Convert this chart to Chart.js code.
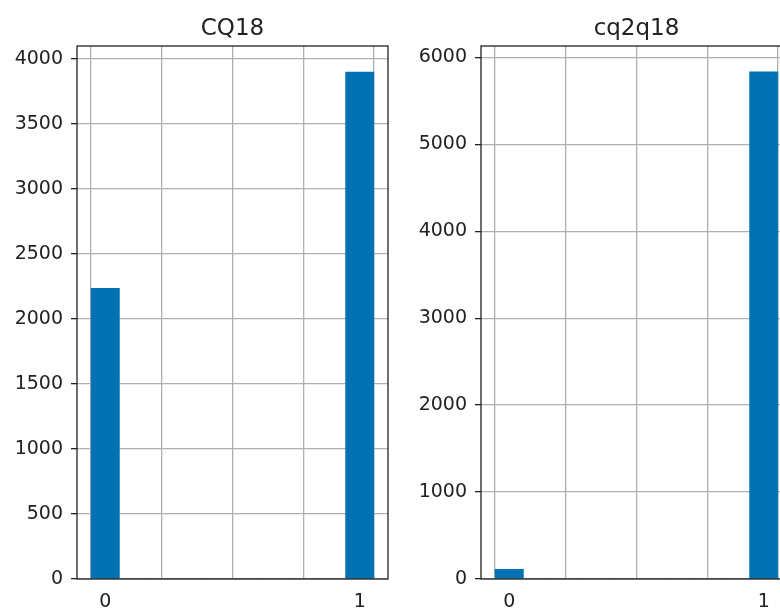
<!DOCTYPE html>
<html>
<head>
<meta charset="utf-8">
<script src="https://cdn.jsdelivr.net/npm/chart.js@4/dist/chart.umd.min.js"></script>
<style>
  html, body { margin: 0; padding: 0; background: #fff; }
  body { width: 780px; height: 610px; overflow: hidden; position: relative; }
  .pane { position: absolute; top: 0; }
</style>
</head>
<body>
<div class="pane" style="left:0;width:400px;height:610px;"><canvas id="left"></canvas></div>
<div class="pane" style="left:400px;width:400px;height:610px;"><canvas id="right"></canvas></div>
<script>
// Histogram bins (10 equal bins over 0..1), centre of each bin
const binCenters = [0.05, 0.15, 0.25, 0.35, 0.45, 0.55, 0.65, 0.75, 0.85, 0.95];

// Counts per bin
const cq18Counts   = [2236, 0, 0, 0, 0, 0, 0, 0, 0, 3900];
const cq2q18Counts = [112, 0, 0, 0, 0, 0, 0, 0, 0, 5834];

// Axis ticks
const xGridTicks   = [0, 0.25, 0.5, 0.75, 1];
const xLabelTicks  = [0.05, 0.95];
const xLabelText   = ['0', '1'];
const cq18YTicks   = [0, 500, 1000, 1500, 2000, 2500, 3000, 3500, 4000];
const cq2q18YTicks = [0, 1000, 2000, 3000, 4000, 5000, 6000];

const BAR = '#0072b2';
const GRID = '#b0b0b0';
const INK = '#222';
const FONT = '"DejaVu Sans", sans-serif';

// Full box (all four spines), subplot title and the bin labels under the axis
const framePlugin = {
  id: 'frame',
  afterDraw(chart, args, opts) {
    const { ctx, chartArea: a } = chart;
    const xs = chart.scales.x;
    ctx.save();
    ctx.strokeStyle = INK;
    ctx.lineWidth = 1.3;
    ctx.strokeRect(a.left, a.top, a.right - a.left, a.bottom - a.top);
    ctx.fillStyle = INK;
    ctx.textAlign = 'center';
    ctx.textBaseline = 'alphabetic';
    ctx.font = '23px ' + FONT;
    ctx.fillText(opts.title, (a.left + a.right) / 2, 35);
    ctx.font = '19px ' + FONT;
    ctx.textBaseline = 'top';
    xLabelTicks.forEach((v, i) => {
      ctx.fillText(xLabelText[i], xs.getPixelForValue(v), a.bottom + 14);
    });
    ctx.restore();
  }
};

function makeHist(id, title, counts, yTicks, yMax, yAxisWidth, padRight) {
  new Chart(document.getElementById(id), {
    type: 'bar',
    data: {
      datasets: [{
        data: binCenters.map((c, i) => ({ x: c, y: counts[i] })),
        backgroundColor: BAR,
        borderWidth: 0,
        barPercentage: 1,
        categoryPercentage: 1
      }]
    },
    options: {
      responsive: true,
      maintainAspectRatio: false,
      animation: false,
      layout: { padding: { top: 46, right: padRight, left: 0, bottom: 0 } },
      plugins: { legend: { display: false }, tooltip: { enabled: false }, frame: { title } },
      scales: {
        x: {
          type: 'linear',
          min: -0.05,
          max: 1.05,
          offset: false,
          z: 1,
          afterBuildTicks(scale) { scale.ticks = xGridTicks.map(v => ({ value: v })); },
          afterFit(scale) { scale.height = 31; },
          grid: {
            offset: false,
            color: GRID,
            lineWidth: 1.3,
            drawTicks: false
          },
          border: { display: false },
          ticks: { display: false }
        },
        y: {
          min: 0,
          max: yMax,
          z: 1,
          afterBuildTicks(scale) { scale.ticks = yTicks.map(v => ({ value: v })); },
          afterFit(scale) { scale.width = yAxisWidth; },
          grid: {
            color: GRID,
            lineWidth: 1.3,
            tickColor: INK,
            tickLength: 6
          },
          border: { display: false },
          ticks: {
            padding: 8,
            color: INK,
            font: { family: FONT, size: 19 },
            callback: v => String(v)
          }
        }
      }
    },
    plugins: [framePlugin]
  });
}

makeHist('left', 'CQ18', cq18Counts, cq18YTicks, 4100, 77, 12);
makeHist('right', 'cq2q18', cq2q18Counts, cq2q18YTicks, 6130, 81, 8);
</script>
</body>
</html>
